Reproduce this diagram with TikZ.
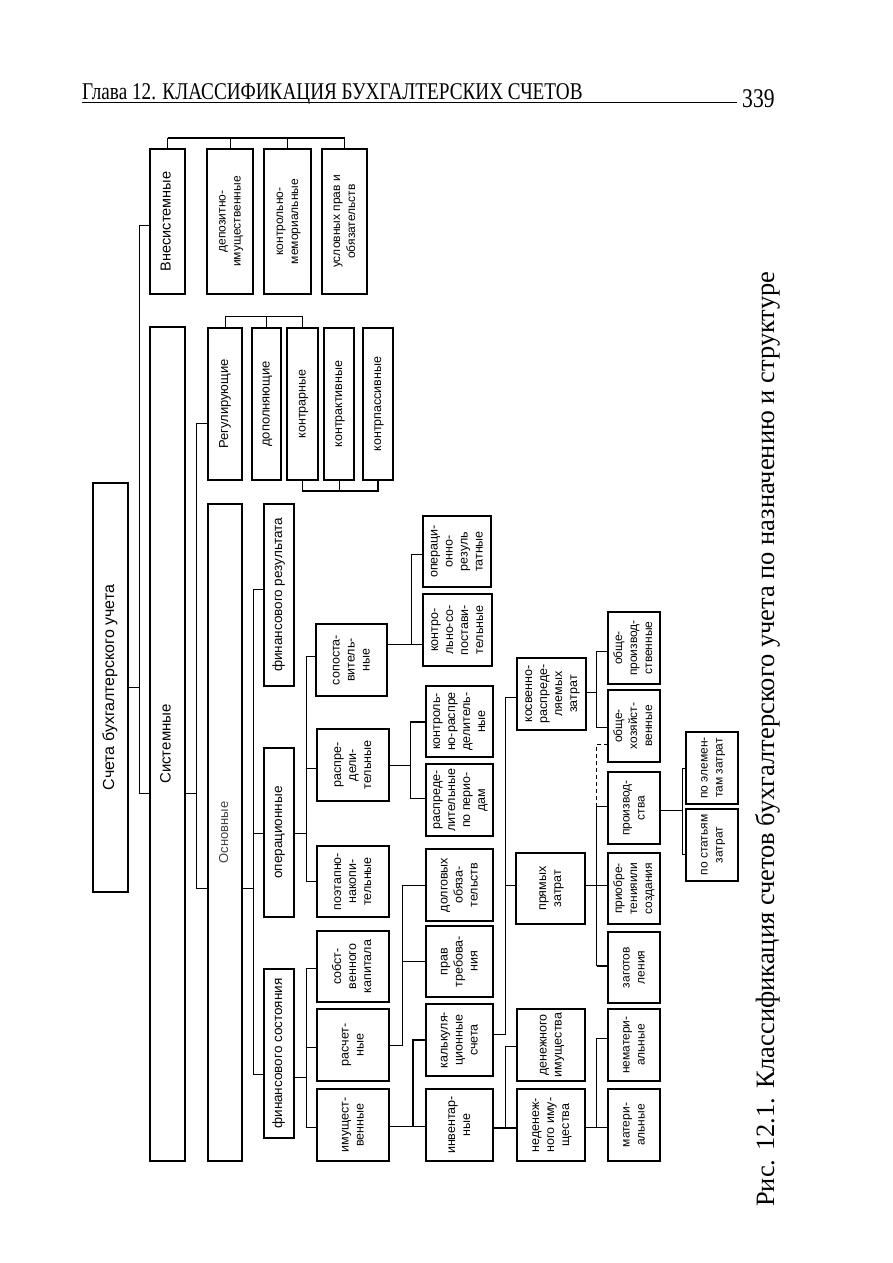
\documentclass[tikz,border=0pt]{standalone}
\usepackage{fontspec}
\usepackage{graphicx}
\setmainfont{Liberation Serif}
\newfontfamily\arialf{Liberation Sans}
\tikzset{
  bx/.style={draw, line width=1.1pt, inner sep=0pt, outer sep=0pt, fill=white},
  ln/.style={line width=0.9pt},
  bln/.style={line width=1.8pt}
}
\newcommand\mybox[8]{%
  \pgfmathsetmacro\myW{#5-#3}\pgfmathsetmacro\myH{#6-#4}%
  \pgfmathsetmacro\myCX{(#3+#5)/2}\pgfmathsetmacro\myCY{(#4+#6)/2}%
  \node[bx,#1,minimum width=\myW pt,minimum height=\myH pt,
        font=\arialf\fontsize{#7}{15}\selectfont] (#2) at (\myCX,\myCY)
        {\rotatebox{90}{\begin{tabular}{@{}c@{}}#8\end{tabular}}};}
\begin{document}
\begin{tikzpicture}[x=1pt,y=-1pt]
\useasboundingbox[fill=white] (0,0) rectangle (893,1263);
% header
\node[anchor=base west, inner sep=0pt, font=\fontsize{24}{24}\selectfont] (hdr) at (82,99.5)
  {\scalebox{0.8}[1]{Глава 12. КЛАССИФИКАЦИЯ БУХГАЛТЕРСКИХ СЧЕТОВ}};
\node[anchor=base west, inner sep=0pt, font=\fontsize{27}{27}\selectfont] (pg) at (742,107.5)
  {\scalebox{0.8}[1]{339}};
\draw[line width=0.9pt] (hdr.base west |- 0,102.5) -- (737,102.5);
% caption
\node[rotate=90, anchor=base west, inner sep=0pt] (cap) at (774,1207)
  {\resizebox{935pt}{!}{\fontsize{24}{24}\selectfont Рис. 12.1. Классификация счетов бухгалтерского учета по назначению и структуре}};

% boxes
\mybox{}{sch}{93}{483}{128}{892}{16}{Счета бухгалтерского учета}
\mybox{}{sys}{150}{327}{185}{1161}{15}{Системные}
\mybox{}{vns}{150}{149}{185}{294}{14.5}{Внесистемные}
\mybox{}{dep}{207}{149}{253}{294}{12}{депозитно-\\имущественные}
\mybox{}{kmem}{264}{149}{311}{294}{12}{контрольно-\\мемориальные}
\mybox{}{usl}{322}{149}{367}{294}{12}{условных прав и\\обязательств}
\mybox{text=black!75}{osn}{208}{504}{242}{1161}{13}{Основные}
\mybox{}{reg}{208}{328}{242}{480}{13}{Регулирующие}
\mybox{}{dop}{252}{328}{281}{480}{13}{дополняющие}
\mybox{line width=1.6pt}{kontrar}{287}{328}{318}{480}{12.5}{контрарные}
\mybox{}{kakt}{324}{328}{354}{480}{12.5}{контрактивные}
\mybox{}{kpas}{363}{328}{393}{480}{12.5}{контрпассивные}
\mybox{}{finres}{264}{504}{294}{686}{13.5}{финансового результата}
\mybox{}{oper}{264}{748}{294}{917}{13.5}{операционные}
\mybox{}{finsost}{264}{969}{294}{1138}{13.5}{финансового состояния}
\mybox{}{sopost}{316}{624}{387}{696}{12.5}{сопоста-\\витель-\\ные}
\mybox{}{raspr}{317}{729}{389}{801}{12.5}{распре-\\дели-\\тельные}
\mybox{}{poet}{317}{846}{389}{917}{12.5}{поэтапно-\\накопи-\\тельные}
\mybox{}{sobst}{317}{931}{389}{1002}{12.5}{собст-\\венного\\капитала}
\mybox{}{rasch}{317}{1009}{389}{1081}{12.5}{расчет-\\ные}
\mybox{}{imush}{317}{1089}{389}{1161}{12.5}{имущест-\\венные}
\mybox{}{opres}{423}{516}{491}{587}{12.5}{операци-\\онно-\\резуль\\татные}
\mybox{}{kontrsop}{423}{594}{492}{666}{12.5}{контро-\\льно-со-\\постави-\\тельные}
\mybox{}{kontrrasp}{426}{686}{493}{757}{12.5}{контроль-\\но-распре\\делитель-\\ные}
\mybox{}{rasppo}{426}{764}{493}{836}{12.5}{распреде-\\лительные\\по перио-\\дам}
\mybox{}{dolg}{426}{849}{493}{921}{12.5}{долговых\\обяза-\\тельств}
\mybox{}{prav}{426}{926}{493}{997}{12.5}{прав\\требова-\\ния}
\mybox{}{kalk}{426}{1004}{493}{1076}{12.5}{калькуля-\\ционные\\счета}
\mybox{}{inv}{426}{1089}{493}{1161}{12.5}{инвентар-\\ные}
\mybox{}{kosv}{517}{658}{586}{730}{12.5}{косвенно-\\распреде-\\ляемых\\затрат}
\mybox{}{pryam}{516}{853}{585}{924}{12.5}{прямых\\затрат}
\mybox{}{denezh}{517}{1009}{585}{1081}{12.5}{денежного\\имущества}
\mybox{}{nedenezh}{517}{1089}{585}{1161}{12.5}{неденеж-\\ного иму-\\щества}
\mybox{}{obshpr}{608}{612}{660}{684}{12}{обще-\\производ-\\ственные}
\mybox{}{obshhoz}{608}{690}{660}{762}{12}{обще-\\хозяйст-\\венные}
\mybox{}{proizv}{608}{772}{660}{844}{12}{производ-\\ства}
\mybox{}{priobr}{608}{853}{660}{924}{12}{приобре-\\тенияили\\создания}
\mybox{}{zagot}{608}{932}{660}{1003}{12}{заготов\\ления}
\mybox{}{nemat}{608}{1009}{660}{1081}{12}{нематери-\\альные}
\mybox{}{mat}{608}{1089}{660}{1161}{12}{матери-\\альные}
\mybox{}{poelem}{686}{732}{738}{804}{12}{по элемен-\\там затрат}
\mybox{}{postat}{686}{809}{738}{881}{12}{по статьям\\затрат}

% top brackets
\draw[line width=2pt] (vns.north |- 0,137.5) -- (usl.north |- 0,137.5);
\foreach \n in {vns,dep,kmem,usl} \draw[ln] (\n.north) -- (\n.north |- 0,137.5);
\draw[ln] (reg.north) -- (reg.north |- 0,316) -- (kontrar.north |- 0,316) -- (kontrar.north);
\draw[ln] (dop.north) -- (dop.north |- 0,316);
\draw[line width=1.6pt] (kontrar.south) -- (kontrar.south |- 0,491) -- (kpas.south |- 0,491) -- (kpas.south);
\draw[ln] (kakt.south) -- (kakt.south |- 0,491);

% trunk
\draw[ln] (vns.west |- 0,225) -| (139.5,793) -- (sys.west |- 0,793);
\draw[ln] (sch.east |- 0,687) -- (139.5,687);
% systemic
\draw[ln] (reg.west |- 0,423) -| (196,888) -- (osn.west |- 0,888);
\draw[ln] (sys.east |- 0,793) -- (196,793);
% basic
\draw[ln] (finres.west |- 0,589) -| (253,1074) -- (finsost.west |- 0,1074);
\draw[ln] (oper.west |- 0,833) -- (253,833);
\draw[ln] (osn.east |- 0,888) -- (253,888);
% operational
\draw[ln] (sopost.west |- 0,656) -| (306.7,881.7) -- (poet.west |- 0,881.7);
\draw[ln] (raspr.west |- 0,768) -- (306.7,768);
\draw[ln] (oper.east |- 0,833) -- (306.7,833);
% financial state
\draw[ln] (sobst.west |- 0,968) -| (306.7,1127.7) -- (imush.west |- 0,1127.7);
\draw[ln] (rasch.west |- 0,1047) -- (306.7,1047);
\draw[ln] (finsost.east |- 0,1077) -- (306.7,1077);
% comparative
\draw[ln] (sopost.east |- 0,644) -- (kontrsop.west |- 0,644);
\draw[ln] (opres.west |- 0,554) -| (411.7,644);
% distributive
\draw[ln] (raspr.east |- 0,765) -- (410,765);
\draw[ln] (410,722) |- (rasppo.west |- 0,798);
\draw[bln] (kontrrasp.west |- 0,722) -- (410,722);
% settlements
\draw[ln] (rasch.east |- 0,1045) -| (402.3,885) -- (dolg.west |- 0,885);
\draw[ln] (prav.west |- 0,961) -- (402.3,961);
% property
\draw[ln] (imush.east |- 0,1126) -- (inv.west |- 0,1126);
\draw[bln] (kalk.west |- 0,1040) -| (413.3,1126);
% costs
\draw[ln] (kosv.west |- 0,697) -| (505.5,1034) -- (kalk.east |- 0,1034);
\draw[ln] (pryam.west |- 0,885.7) -- (505.5,885.7);
\draw[bln] (inv.east |- 0,1127.7) -- (nedenezh.west |- 0,1127.7);
\draw[ln] (denezh.west |- 0,1046.7) -| (505.5,1127.7);
\draw[ln] (kosv.east |- 0,692.7) -- (596,692.7);
\draw[ln] (obshpr.west |- 0,651) -| (596,727.7) -- (obshhoz.west |- 0,727.7);
\draw[ln] (pryam.east |- 0,885.7) -- (priobr.west |- 0,885.7);
\draw[ln] (proizv.west |- 0,806) -| (596.7,965.7);
\draw[bln] (596.7,965.7) -- (zagot.west |- 0,965.7);
\draw[ln, dashed, dash pattern=on 4pt off 3pt] (obshhoz.west |- 0,744) -| (596.7,806);
\draw[ln] (proizv.east |- 0,810) -- (682.7,810);
\draw[ln] (poelem.west |- 0,768) -| (682.7,854) -- (postat.west |- 0,854);
\draw[ln] (nedenezh.east |- 0,1127.7) -- (mat.west |- 0,1127.7);
\draw[ln] (nemat.west |- 0,1038.3) -| (596.7,1127.7);
\end{tikzpicture}
\end{document}
